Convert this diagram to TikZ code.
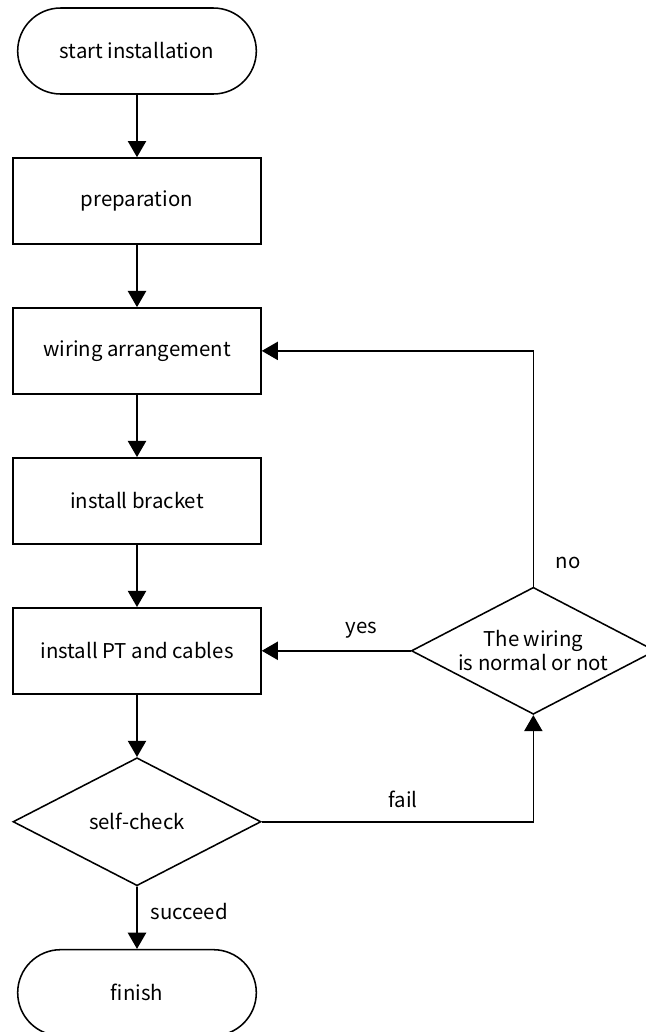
\documentclass[tikz,border=0pt]{standalone}
\usepackage{fontspec}
\setmainfont{Noto Sans CJK SC}
\usetikzlibrary{positioning}
\usetikzlibrary{shapes.misc, shapes.geometric}
\usetikzlibrary{arrows.meta}

\begin{document}
\begin{tikzpicture}[scale=1.0,
        every node/.style={font=\fontsize{14.5}{16}\selectfont},
        terminal/.style={draw, rounded rectangle, line width=1.1pt, minimum width=6.2cm, minimum height=2.15cm},
        stepbox/.style={draw, rectangle, line width=1.1pt, minimum width=6.2cm, minimum height=2.15cm},
        decision/.style={draw, diamond, aspect=2, line width=1.1pt, inner sep=0pt},
        flow/.style={-{Triangle[width=13pt,length=11.5pt]}, line width=1.1pt},
        node distance=1.56cm]
            % Frame
            \useasboundingbox (0,0) rectangle (16.15,-25.8);

            % Main column
            \node[terminal] (start) at (3.425,-1.275) {start installation};
            \node[stepbox, below=of start] (prep) {preparation};
            \node[stepbox, below=of prep] (wiring) {wiring arrangement};
            \node[stepbox, below=of wiring] (bracket) {install bracket};
            \node[stepbox, below=of bracket] (pt) {install PT and cables};
            \node[decision, below=of pt, minimum width=6.2cm, minimum height=3.2cm] (check) {self-check};
            \node[terminal, below=of check] (finish) {finish};

            % Wiring test
            \node[decision, right=3.72cm of pt, minimum width=6.1cm, minimum height=3.175cm,
                  align=center, font=\fontsize{14.5}{17}\selectfont] (test) {The wiring\\is normal or not};

            % Arrows
            \draw[flow] (start) -- (prep);
            \draw[flow] (prep) -- (wiring);
            \draw[flow] (wiring) -- (bracket);
            \draw[flow] (bracket) -- (pt);
            \draw[flow] (pt) -- (check);
            \draw[flow] (check) -- node[right, pos=0.4, xshift=6pt] {succeed} (finish);

            % Loop back
            \draw[flow] (check.east) -| node[above=6pt, pos=0.26] {fail} (test.south);
            \draw[flow] (test.west) -- node[above=5pt, pos=0.33] {yes} (pt.east);
            \draw[flow] (test.north) |- node[right, pos=0.05, xshift=12pt] {no} (wiring.east);
        \end{tikzpicture}
\end{document}
